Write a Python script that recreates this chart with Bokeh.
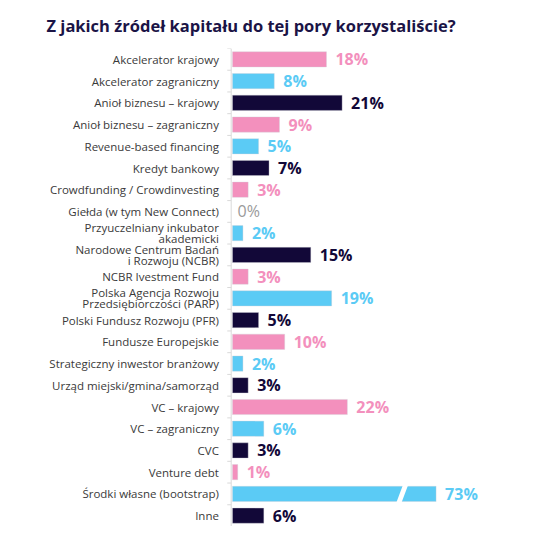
from bokeh.plotting import figure
from bokeh.models import Range1d, ColumnDataSource
from bokeh.core.properties import value
from bokeh.embed import file_html
from bokeh.resources import INLINE

title = "Z jakich źródeł kapitału do tej pory korzystaliście?"
categories = [
    "Akcelerator krajowy",
    "Akcelerator zagraniczny",
    "Anioł biznesu – krajowy",
    "Anioł biznesu – zagraniczny",
    "Revenue-based financing",
    "Kredyt bankowy",
    "Crowdfunding / Crowdinvesting",
    "Giełda (w tym New Connect)",
    "Przyuczelniany inkubator\nakademicki",
    "Narodowe Centrum Badań\ni Rozwoju (NCBR)",
    "NCBR Ivestment Fund",
    "Polska Agencja Rozwoju\nPrzedsiębiorczości (PARP)",
    "Polski Fundusz Rozwoju (PFR)",
    "Fundusze Europejskie",
    "Strategiczny inwestor branżowy",
    "Urząd miejski/gmina/samorząd",
    "VC – krajowy",
    "VC – zagraniczny",
    "CVC",
    "Venture debt",
    "Środki własne (bootstrap)",
    "Inne",
]
values = [18, 8, 21, 9, 5, 7, 3, 0, 2, 15, 3, 19, 5, 10, 2, 3, 22, 6, 3, 1, 73, 6]

PINK = "#F390BD"
BLUE = "#5BCBF5"
NAVY = "#120838"
GRAY = "#9A9A9A"
bar_colors = [PINK, BLUE, NAVY, PINK, BLUE, NAVY, PINK, GRAY, BLUE, NAVY, PINK,
              BLUE, NAVY, PINK, BLUE, NAVY, PINK, BLUE, NAVY, PINK, BLUE, NAVY]

CAP = 39  # axis-break display cap for very long bars
n = len(categories)
ys = list(range(n))
disp = [min(v, CAP) for v in values]
labels = [f"{v}%" for v in values]

px_per = 5.22
frame_w = 535
x0_px = 232
xs = -x0_px / px_per
xe = xs + frame_w / px_per

p = figure(width=535, height=526, output_backend="svg", toolbar_location=None,
           x_range=Range1d(xs, xe), y_range=Range1d(n - 0.5, -0.5),
           min_border_left=0, min_border_right=0, min_border_bottom=0,
           min_border_top=48)
p.title.text = title
p.title.text_font = "Open Sans"
p.title.text_font_size = "16.5px"
p.title.text_font_style = "bold"
p.title.text_color = "#1B1446"
p.title.offset = 46
p.title.standoff = 23
p.axis.visible = False
p.grid.visible = False
p.outline_line_color = None
p.background_fill_color = "white"

bars_src = ColumnDataSource(dict(y=[y for y, v in zip(ys, values) if v > 0],
                                 v=[d for d, v in zip(disp, values) if v > 0],
                                 c=[c for c, v in zip(bar_colors, values) if v > 0]))
p.hbar(y="y", left=0, right="v", height=0.7, fill_color="c",
       line_color="#D0D0D8", line_width=0.6, line_alpha=0.6, source=bars_src)

# axis break for capped bars
for y, v in zip(ys, values):
    if v > CAP:
        bx = CAP - 7.0
        w = 1.0
        s = 0.7
        p.patch([bx - s, bx - s + w, bx + s + w, bx + s],
                [y + 0.45, y + 0.45, y - 0.45, y - 0.45],
                fill_color="white", line_color=None)

# category axis line and ticks
p.segment(x0=[-0.25], x1=[-0.25], y0=[-0.5], y1=[n - 0.5], line_color="#D9D9D9", line_width=1)
bounds = [i - 0.5 for i in range(n + 1)]
p.segment(x0=[-1.0] * len(bounds), x1=[-0.25] * len(bounds), y0=bounds, y1=bounds,
          line_color="#D9D9D9", line_width=1)

# category labels (multi-line split into separate lines)
lx, ly, lt, lo = [], [], [], []
for y, cat in zip(ys, categories):
    parts = cat.split("\n")
    k = len(parts)
    for j, part in enumerate(parts):
        lx.append(-2.6)
        ly.append(y)
        lt.append(part)
        lo.append((j - (k - 1) / 2) * 11.0)
p.text(x=lx, y=ly, text=lt, y_offset=lo, text_align="right", text_baseline="middle",
       text_font=value("Open Sans"), text_font_size="11.5px", text_color="#3A3A3A")

# value labels
bold_idx = [i for i, v in enumerate(values) if v > 0]
zero_idx = [i for i, v in enumerate(values) if v == 0]
p.text(x=[disp[i] for i in bold_idx], y=[ys[i] for i in bold_idx],
       text=[labels[i] for i in bold_idx], text_color=[bar_colors[i] for i in bold_idx],
       x_offset=9, text_align="left", text_baseline="middle",
       text_font=value("Open Sans"), text_font_size="16px", text_font_style="bold")
p.text(x=[disp[i] for i in zero_idx], y=[ys[i] for i in zero_idx],
       text=[labels[i] for i in zero_idx], text_color=GRAY,
       x_offset=5, text_align="left", text_baseline="middle",
       text_font=value("Open Sans"), text_font_size="16px")

open("out.html", "w").write(file_html(p, INLINE))
